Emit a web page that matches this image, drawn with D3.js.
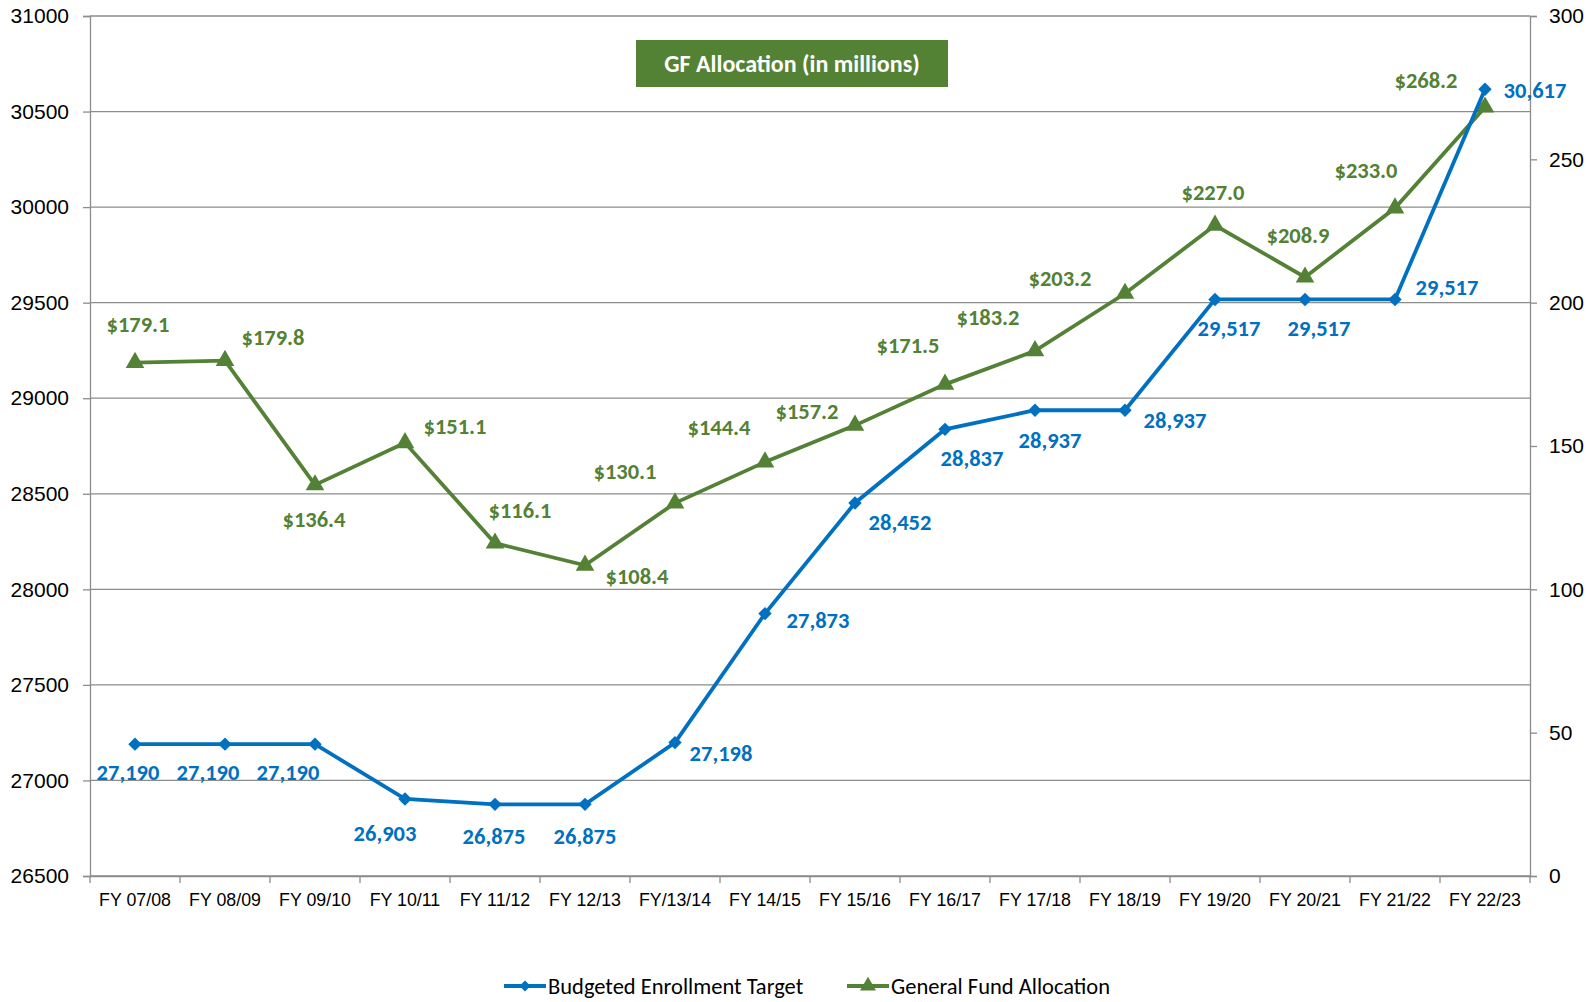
<!DOCTYPE html>
<html>
<head>
<meta charset="utf-8">
<script src="https://cdn.jsdelivr.net/npm/d3@7"></script>
<style>
    body { margin: 0; background: #fff; }
    svg { font-family: Carlito, Calibri, Lato, sans-serif; }
</style>
</head>
<body>
<svg id="chart" width="1596" height="1002"></svg>
<script>
let years = ["FY 07/08", "FY 08/09", "FY 09/10", "FY 10/11", "FY 11/12", "FY 12/13", "FY/13/14",
    "FY 14/15", "FY 15/16", "FY 16/17", "FY 17/18", "FY 18/19", "FY 19/20", "FY 20/21", "FY 21/22", "FY 22/23"];
let enrollment = [27190, 27190, 27190, 26903, 26875, 26875, 27198, 27873, 28452, 28837, 28937, 28937,
    29517, 29517, 29517, 30617];
let allocation = [179.1, 179.8, 136.4, 151.1, 116.1, 108.4, 130.1, 144.4, 157.2, 171.5, 183.2, 203.2,
    227.0, 208.9, 233.0, 268.2];
let leftTicks = [26500, 27000, 27500, 28000, 28500, 29000, 29500, 30000, 30500, 31000];
let rightTicks = [0, 50, 100, 150, 200, 250, 300];

// label offsets from each point (px)
let enrollOffsets = [[-7, 28], [-17, 28], [-27, 28], [-20, 34], [-1, 32], [0, 32], [46, 11], [53, 7],
    [45, 19], [27, 29], [15, 30], [50, 10], [14, 29], [14, 29], [52, -12], [50, 1]];
let allocOffsets = [[3, -38], [48, -23], [-1, 34], [50, -17], [25, -33], [52, 11], [-50, -32], [-46, -35],
    [-48, -14], [-37, -39], [-47, -34], [-65, -15], [-2, -33], [-7, -42], [-29, -38], [-59, -27]];

let blue = "#0070c0";
let green = "#538135";
let grid = "#8c8c8c";

let svg = d3.select("#chart");
let mLeft = 90, mRight = 1530, mTop = 16, mBottom = 876;

let x = d3.scaleBand().domain(years).range([mLeft, mRight]);
let y = d3.scaleLinear().domain([26500, 31000]).range([mBottom, mTop]);
let y2 = d3.scaleLinear().domain([0, 300]).range([mBottom, mTop]);

// gridlines
svg.append("g")
    .selectAll("line")
    .data(leftTicks)
    .join("line")
    .attr("x1", mLeft).attr("x2", mRight)
    .attr("y1", d => y(d)).attr("y2", d => y(d))
    .attr("stroke", grid).attr("stroke-width", 1.3);

// left axis
let ga = svg.append("g")
    .attr("transform", `translate(${mLeft},0)`)
    .call(d3.axisLeft(y).tickValues(leftTicks).tickFormat(d3.format("d")).tickSize(7).tickPadding(14));

// right axis
let gb = svg.append("g")
    .attr("transform", `translate(${mRight},0)`)
    .call(d3.axisRight(y2).tickValues(rightTicks).tickSize(7).tickPadding(12));

// bottom axis, ticks between categories
let gx = svg.append("g")
    .attr("transform", `translate(0,${mBottom})`)
    .call(d3.axisBottom(x).tickSize(0).tickPadding(17));
gx.selectAll(".tickmark")
    .data(d3.range(years.length + 1))
    .join("line")
    .attr("class", "tickmark")
    .attr("x1", i => mLeft + i * x.step()).attr("x2", i => mLeft + i * x.step())
    .attr("y1", 0).attr("y2", 7)
    .attr("stroke", grid).attr("stroke-width", 1.3);

[ga, gb, gx].forEach(function (g) {
    g.select(".domain").attr("stroke", grid).attr("stroke-width", 1.3);
    g.selectAll(".tick line").attr("stroke", grid).attr("stroke-width", 1.3);
    g.selectAll("text").attr("fill", "#000");
});
ga.selectAll("text").attr("font-size", 21);
gb.selectAll("text").attr("font-size", 21);
gx.selectAll("text").attr("font-size", 17.8);

let cx = d => x(d) + x.bandwidth() / 2;

let lineE = d3.line().x((d, i) => cx(years[i])).y(d => y(d));
let lineA = d3.line().x((d, i) => cx(years[i])).y(d => y2(d));

svg.append("path").datum(allocation)
    .attr("d", lineA).attr("fill", "none")
    .attr("stroke", green).attr("stroke-width", 3.8);

svg.append("g").selectAll("path")
    .data(allocation)
    .join("path")
    .attr("transform", (d, i) => `translate(${cx(years[i])},${y2(d)})`)
    .attr("d", d3.symbol(d3.symbolTriangle, 150))
    .attr("fill", green);

svg.append("path").datum(enrollment)
    .attr("d", lineE).attr("fill", "none")
    .attr("stroke", blue).attr("stroke-width", 3.8);

svg.append("g").selectAll("path")
    .data(enrollment)
    .join("path")
    .attr("transform", (d, i) => `translate(${cx(years[i])},${y(d)}) rotate(45)`)
    .attr("d", d3.symbol(d3.symbolSquare, 90))
    .attr("fill", blue);

// data labels
svg.append("g").selectAll("text")
    .data(allocation)
    .join("text")
    .attr("x", (d, i) => cx(years[i]) + allocOffsets[i][0])
    .attr("y", (d, i) => y2(d) + allocOffsets[i][1])
    .attr("text-anchor", "middle").attr("dy", "0.35em")
    .attr("font-size", 22.5).attr("font-weight", "bold")
    .attr("fill", green)
    .text(d => "$" + d3.format(".1f")(d));

svg.append("g").selectAll("text")
    .data(enrollment)
    .join("text")
    .attr("x", (d, i) => cx(years[i]) + enrollOffsets[i][0])
    .attr("y", (d, i) => y(d) + enrollOffsets[i][1])
    .attr("text-anchor", "middle").attr("dy", "0.35em")
    .attr("font-size", 22.5).attr("font-weight", "bold")
    .attr("fill", blue)
    .text(d => d3.format(",")(d));

// title box
let tb = svg.append("g");
tb.append("rect")
    .attr("x", 636).attr("y", 40).attr("width", 312).attr("height", 47)
    .attr("fill", "#548235");
tb.append("text")
    .attr("x", 792).attr("y", 63.5).attr("dy", "0.35em")
    .attr("text-anchor", "middle")
    .attr("font-size", 24).attr("font-weight", "bold")
    .attr("fill", "#fff")
    .text("GF Allocation (in millions)");

// legend
let legend = [
    { name: "Budgeted Enrollment Target", color: blue, sym: d3.symbolSquare, size: 60, rot: 45, x: 504 },
    { name: "General Fund Allocation", color: green, sym: d3.symbolTriangle, size: 110, rot: 0, x: 847 }
];
let lg = svg.append("g").selectAll("g")
    .data(legend)
    .join("g")
    .attr("transform", d => `translate(${d.x},986)`);
lg.append("line")
    .attr("x1", 0).attr("x2", 42)
    .attr("stroke", d => d.color).attr("stroke-width", 3.8);
lg.append("path")
    .attr("transform", d => `translate(21,0) rotate(${d.rot})`)
    .attr("d", d => d3.symbol(d.sym, d.size)())
    .attr("fill", d => d.color);
lg.append("text")
    .attr("x", 44).attr("dy", "0.35em")
    .attr("font-size", 22.5)
    .text(d => d.name);
</script>
</body>
</html>
